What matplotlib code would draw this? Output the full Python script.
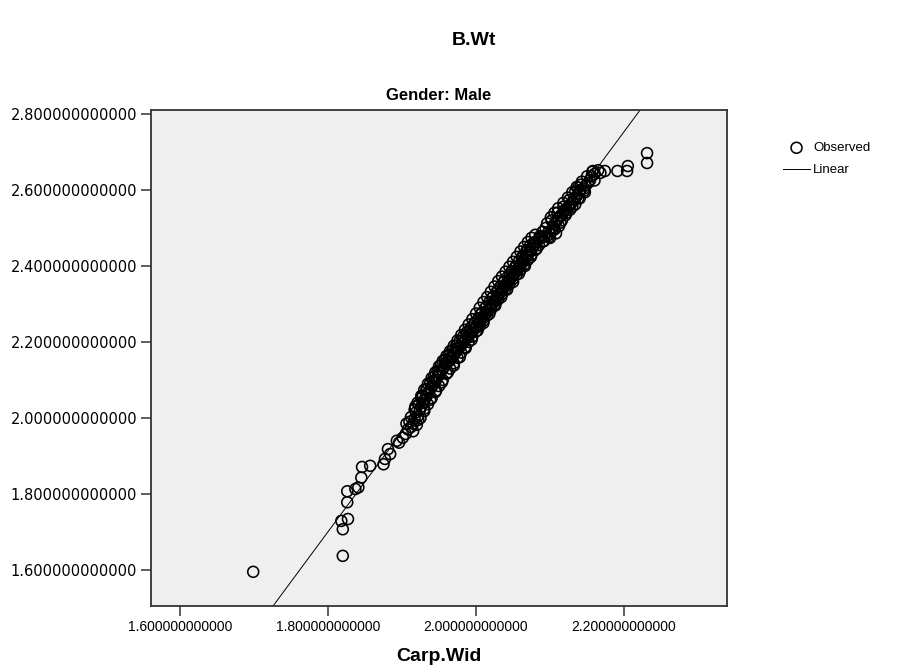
import matplotlib
matplotlib.use('Agg')
import matplotlib.pyplot as plt
import numpy as np

# Data (Carp.Wid vs B.Wt, Gender: Male) #

carp_wid = [1.699, 1.820, 1.820, 1.818, 1.827, 1.826, 1.826, 1.837, 1.841, 1.845,
            1.846, 1.857, 1.875, 1.877, 1.881, 1.893, 1.901, 1.896, 1.884,
            1.905, 1.908, 1.912, 1.910, 1.915, 1.917, 1.921, 1.919, 1.924, 1.926,
            1.923, 1.929, 1.931, 1.928, 1.934, 1.936, 1.933, 1.939, 1.941, 1.938,
            1.944, 1.946, 1.943, 1.949, 1.951, 1.948, 1.954, 1.956, 1.953, 1.959,
            1.961, 1.958, 1.964, 1.966, 1.963, 1.969, 1.971, 1.968, 1.974, 1.976,
            1.973, 1.979, 1.981, 1.978, 1.984, 1.986, 1.983, 1.989, 1.991, 1.988,
            1.994, 1.996, 1.993, 1.999, 2.001, 1.998, 2.004, 2.006, 2.003, 2.009,
            2.011, 2.008, 2.014, 2.016, 2.013, 2.019, 2.021, 2.018, 2.024, 2.026,
            2.023, 2.029, 2.031, 2.028, 2.034, 2.036, 2.033, 2.039, 2.041, 2.038,
            2.044, 2.046, 2.043, 2.049, 2.051, 2.048, 2.054, 2.056, 2.053, 2.059,
            2.061, 2.058, 2.064, 2.066, 2.063, 2.069, 2.071, 2.068, 2.074, 2.076,
            2.073, 2.079, 2.081, 2.085, 2.088, 2.092, 2.096, 2.100, 2.098, 2.103,
            2.104, 2.106, 2.109, 2.111, 2.114, 2.117, 2.119, 2.122, 2.125, 2.127,
            2.130, 2.133, 2.136, 2.139, 2.141, 2.138, 2.146, 2.148, 2.151, 2.154,
            2.156, 2.160, 2.158, 2.165, 2.168, 2.160,
            2.174, 2.191, 2.204, 2.205, 2.231, 2.231,
            # upper-left edge of the dense band
            1.906, 1.912, 1.917, 1.921, 1.926, 1.930, 1.935, 1.940, 1.945, 1.950,
            1.955, 1.960, 1.965, 1.970, 1.975, 1.980, 1.985, 1.990, 1.995, 2.000,
            2.005, 2.010, 2.015, 2.020, 2.025, 2.030, 2.035, 2.040, 2.045, 2.050,
            2.055, 2.060, 2.065, 2.070, 2.075, 2.080, 2.090, 2.096, 2.101, 2.106,
            2.111, 2.118, 2.124, 2.130, 2.136, 2.143, 2.150, 2.157,
            # lower-right edge of the dense band
            1.915, 1.920, 1.925, 1.930, 1.935, 1.940, 1.945, 1.950, 1.955, 1.960,
            1.965, 1.970, 1.975, 1.980, 1.985, 1.990, 1.995, 2.000, 2.005, 2.010,
            2.015, 2.020, 2.025, 2.030, 2.035, 2.040, 2.045, 2.050, 2.055, 2.060,
            2.065, 2.070, 2.075, 2.080, 2.085, 2.092, 2.100, 2.108, 2.112, 2.116,
            2.121, 2.127, 2.134, 2.140, 2.147,
            # band interior, upper half
            1.918, 1.926, 1.934, 1.942, 1.950, 1.958, 1.966, 1.974, 1.982, 1.990,
            1.998, 2.006, 2.014, 2.022, 2.030, 2.038, 2.046, 2.054, 2.062, 2.070,
            2.078, 2.086, 2.094, 2.102, 2.110, 2.118, 2.126, 2.134, 2.142,
            # band interior, lower half
            1.922, 1.930, 1.938, 1.946, 1.954, 1.962, 1.970, 1.978, 1.986, 1.994,
            2.002, 2.010, 2.018, 2.026, 2.034, 2.042, 2.050, 2.058, 2.066, 2.074,
            2.082, 2.090, 2.098, 2.106, 2.114, 2.122, 2.130, 2.138, 2.146]
b_wt = [1.595, 1.637, 1.707, 1.729, 1.734, 1.778, 1.807, 1.813, 1.817, 1.843,
        1.871, 1.874, 1.878, 1.892, 1.918, 1.940, 1.948, 1.935, 1.905,
        1.958, 1.970, 1.976, 1.990, 1.985, 1.998, 2.004, 2.015, 2.020, 2.030,
        2.036, 2.040, 2.050, 2.057, 2.060, 2.068, 2.076, 2.078, 2.085, 2.092,
        2.094, 2.100, 2.108, 2.110, 2.118, 2.124, 2.126, 2.132, 2.140, 2.142,
        2.148, 2.153, 2.150, 2.158, 2.165, 2.163, 2.170, 2.178, 2.176, 2.184,
        2.190, 2.188, 2.196, 2.203, 2.200, 2.208, 2.215, 2.212, 2.220, 2.227,
        2.224, 2.232, 2.238, 2.236, 2.244, 2.250, 2.248, 2.256, 2.262, 2.262,
        2.270, 2.277, 2.276, 2.284, 2.290, 2.290, 2.298, 2.305, 2.304, 2.312,
        2.318, 2.318, 2.326, 2.332, 2.332, 2.340, 2.346, 2.346, 2.354, 2.360,
        2.358, 2.366, 2.372, 2.372, 2.380, 2.386, 2.384, 2.392, 2.398, 2.398,
        2.406, 2.412, 2.412, 2.420, 2.426, 2.426, 2.434, 2.440, 2.440, 2.448,
        2.454, 2.456, 2.464, 2.470, 2.476, 2.478, 2.480, 2.484, 2.490, 2.494,
        2.502, 2.510, 2.518, 2.526, 2.532, 2.538, 2.546, 2.550, 2.556, 2.562,
        2.568, 2.576, 2.584, 2.592, 2.600, 2.606, 2.604, 2.612, 2.618, 2.626,
        2.636, 2.642, 2.650, 2.652, 2.645, 2.625,
        2.650, 2.650, 2.650, 2.663, 2.697, 2.671,
        # upper-left edge of the dense band
        1.985, 2.002, 2.022, 2.040, 2.058, 2.074, 2.090, 2.105, 2.120, 2.136,
        2.150, 2.163, 2.176, 2.190, 2.204, 2.218, 2.232, 2.246, 2.260, 2.275,
        2.290, 2.305, 2.318, 2.332, 2.346, 2.360, 2.372, 2.385, 2.398, 2.411,
        2.424, 2.438, 2.450, 2.463, 2.474, 2.482, 2.490, 2.512, 2.528, 2.540,
        2.552, 2.566, 2.580, 2.594, 2.608, 2.622, 2.636, 2.648,
        # lower-right edge of the dense band
        1.965, 1.982, 2.000, 2.018, 2.036, 2.052, 2.068, 2.084, 2.100, 2.116,
        2.130, 2.144, 2.158, 2.172, 2.186, 2.200, 2.214, 2.228, 2.242, 2.256,
        2.270, 2.285, 2.298, 2.312, 2.326, 2.340, 2.352, 2.366, 2.378, 2.390,
        2.404, 2.416, 2.430, 2.442, 2.455, 2.466, 2.474, 2.486, 2.505, 2.520,
        2.534, 2.548, 2.562, 2.578, 2.594,
        # band interior, upper half
        2.030, 2.052, 2.076, 2.098, 2.122, 2.142, 2.160, 2.182, 2.204, 2.226,
        2.250, 2.272, 2.294, 2.316, 2.338, 2.358, 2.378, 2.398, 2.420, 2.442,
        2.462, 2.478, 2.500, 2.520, 2.540, 2.556, 2.574, 2.596, 2.614,
        # band interior, lower half
        1.995, 2.024, 2.048, 2.072, 2.094, 2.120, 2.138, 2.160, 2.184, 2.206,
        2.230, 2.250, 2.274, 2.296, 2.318, 2.338, 2.358, 2.380, 2.400, 2.424,
        2.446, 2.464, 2.476, 2.496, 2.514, 2.540, 2.556, 2.578, 2.598]

# Linear fit line (slope, intercept)
linear_coef = [2.633, -3.039]

x_ticks = [1.6, 1.8, 2.0, 2.2]
y_ticks = [1.6, 1.8, 2.0, 2.2, 2.4, 2.6, 2.8]
x_lim = [1.561, 2.339]
y_lim = [1.505, 2.8105]

# Plotting #

plt.rcParams['font.family'] = ['Liberation Sans', 'DejaVu Sans']
bold_font = ['Liberation Sans Narrow', 'Liberation Sans', 'DejaVu Sans']

fig = plt.figure(figsize=(8.98, 6.72), dpi=100)
ax = fig.add_axes([0.1682, 0.0982, 0.6414, 0.7381])
ax.set_facecolor('#efefef')

ax.scatter(carp_wid, b_wt, s=62, facecolors='none', edgecolors='black',
           linewidths=1.15, label='Observed', zorder=3)

xs = np.array(x_lim)
ax.plot(xs, np.polyval(linear_coef, xs), color='black', linewidth=0.7,
        label='Linear', zorder=2)

ax.set_xlim(x_lim)
ax.set_ylim(y_lim)
ax.set_xticks(x_ticks)
ax.set_yticks(y_ticks)
ax.set_xticklabels(['%.12f' % v for v in x_ticks])
ax.set_yticklabels(['%.12f' % v for v in y_ticks], family='DejaVu Sans',
                   fontsize=10.5)
ax.tick_params(direction='out', length=7, width=1.1, colors='#333333',
               labelcolor='black', pad=3)
ax.tick_params(axis='x', labelsize=10)
for sp in ax.spines.values():
    sp.set_color('#333333')
    sp.set_linewidth(1.3)

ax.set_title('Gender: Male', fontsize=12, fontweight='bold', family=bold_font, pad=7)
ax.set_xlabel('Carp.Wid', fontsize=14, fontweight='bold', family=bold_font, labelpad=10)
fig.text(0.528, 0.94, 'B.Wt', fontsize=14, fontweight='bold', family=bold_font,
         ha='center', va='center')

leg = fig.legend(loc='upper left', bbox_to_anchor=(783 / 898, 1 - 142 / 672),
                 frameon=False, fontsize=9.5, handlelength=2.05,
                 handletextpad=0.25, labelspacing=0.75, borderpad=0,
                 borderaxespad=0)

plt.savefig('out.png', dpi=100)
